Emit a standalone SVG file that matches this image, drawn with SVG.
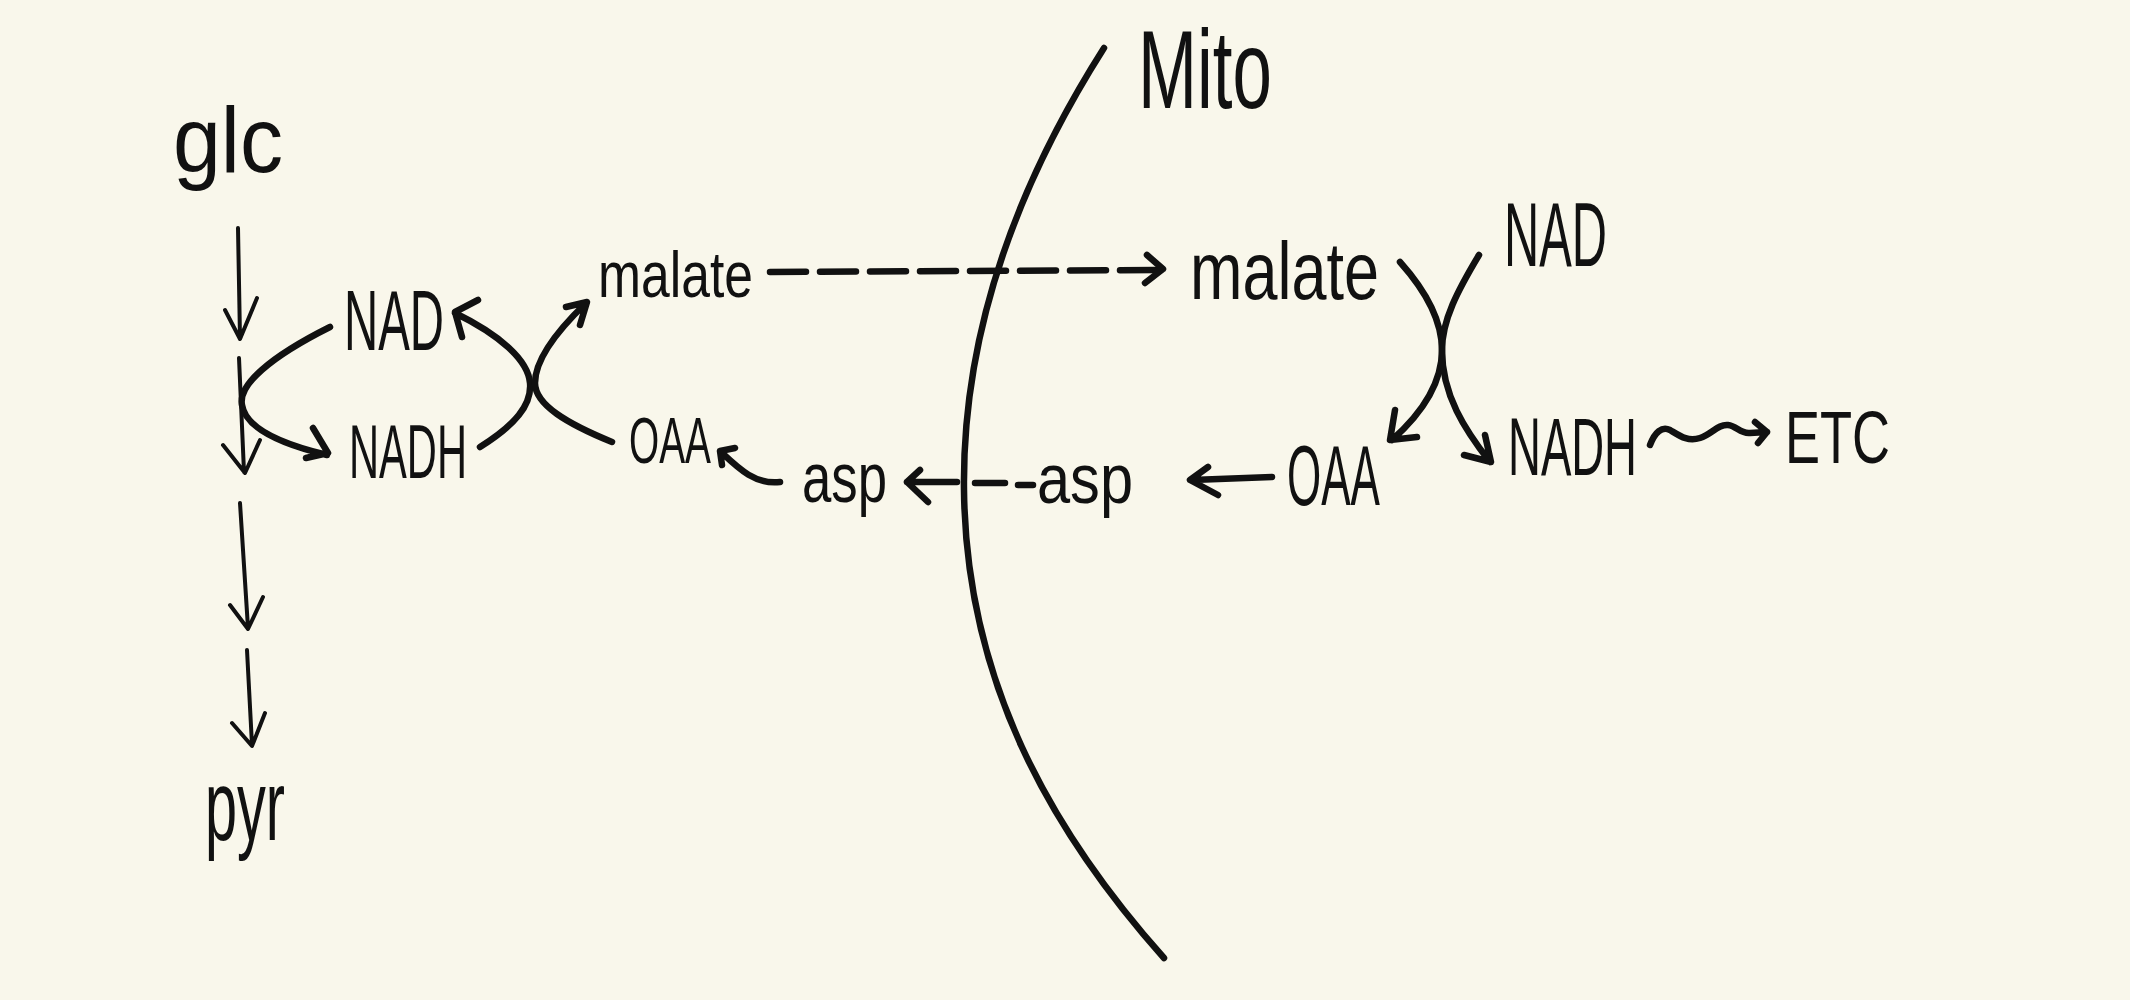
<svg xmlns="http://www.w3.org/2000/svg" width="2130" height="1000" viewBox="0 0 2130 1000">
<style>
.t{font-family:"Liberation Sans","DejaVu Sans",sans-serif;fill:#111}
.ln{fill:none;stroke:#111;stroke-linecap:round;stroke-linejoin:round}
.thin{stroke-width:4}
.thick{stroke-width:6.5}
</style>
<rect width="2130" height="1000" fill="#f9f7eb"/>
<g id="membrane"><path class="ln thick" d="M1104,48 C1020,180 962,330 964,490 C966,680 1050,830 1164,958"/></g>
<g id="mito"><text class="t" x="1138" y="108" font-size="112" textLength="134" lengthAdjust="spacingAndGlyphs">Mito</text></g>
<g id="glc"><text class="t" x="173" y="172" font-size="92" textLength="110" lengthAdjust="spacingAndGlyphs">glc</text></g>
<g id="pyr"><text class="t" x="205" y="840" font-size="100" textLength="80" lengthAdjust="spacingAndGlyphs">pyr</text></g>
<g id="nad-cyto"><text class="t" x="344" y="350" font-size="86" textLength="100" lengthAdjust="spacingAndGlyphs">NAD</text></g>
<g id="nadh-cyto"><text class="t" x="349" y="478" font-size="76" textLength="118" lengthAdjust="spacingAndGlyphs">NADH</text></g>
<g id="malate-cyto"><text class="t" x="598" y="297" font-size="64" textLength="155" lengthAdjust="spacingAndGlyphs">malate</text></g>
<g id="oaa-cyto"><text class="t" x="629" y="463" font-size="64" textLength="82" lengthAdjust="spacingAndGlyphs">OAA</text></g>
<g id="asp-cyto"><text class="t" x="802" y="502" font-size="70" textLength="85" lengthAdjust="spacingAndGlyphs">asp</text></g>
<g id="asp-mito"><text class="t" x="1037" y="503" font-size="70" textLength="96" lengthAdjust="spacingAndGlyphs">asp</text></g>
<g id="malate-mito"><text class="t" x="1190" y="299" font-size="82" textLength="189" lengthAdjust="spacingAndGlyphs">malate</text></g>
<g id="nad-mito"><text class="t" x="1504" y="266" font-size="90" textLength="103" lengthAdjust="spacingAndGlyphs">NAD</text></g>
<g id="oaa-mito"><text class="t" x="1287" y="505" font-size="86" textLength="93" lengthAdjust="spacingAndGlyphs">OAA</text></g>
<g id="nadh-mito"><text class="t" x="1508" y="475" font-size="81" textLength="129" lengthAdjust="spacingAndGlyphs">NADH</text></g>
<g id="etc"><text class="t" x="1785" y="463" font-size="74" textLength="105" lengthAdjust="spacingAndGlyphs">ETC</text></g>
<g id="connectors">
<path class="ln thin" d="M238,228 L240,338 M225,310 L240,339 L257,298"/>
<path class="ln thin" d="M239,358 L244,472 M223,445 L245,473 L260,440"/>
<path class="ln thin" d="M240,503 L248,628 M230,605 L248,629 L263,597"/>
<path class="ln thin" d="M247,650 L252,745 M232,723 L252,746 L265,713"/>
<path class="ln thick" d="M330,327 C270,357 238,385 242,405 C246,430 285,445 327,455 M313,428 L328,453 L306,458"/>
<path class="ln thick" d="M480,447 C515,425 532,405 530,383 C528,360 500,335 455,313 M478,300 L455,312 L462,337"/>
<path class="ln thick" d="M612,442 C568,424 535,405 535,383 C535,360 558,330 586,303 M566,307 L587,302 L580,325"/>
<path class="ln thick" d="M770,272 L1158,270" stroke-dasharray="36 14"/>
<path class="ln thick" d="M1147,255 L1163,269 L1145,283"/>
<path class="ln thick" d="M907,482 L957,482 M975,483 L1005,483 M1018,485 L1033,485 M920,470 L907,482 L928,502"/>
<path class="ln thick" d="M780,482 C755,485 738,468 721,452 M722,465 L720,451 L735,448"/>
<path class="ln thick" d="M1272,477 L1192,480 M1208,467 L1190,480 L1218,495"/>
<path class="ln thick" d="M1400,262 C1425,290 1442,320 1442,350 C1442,385 1420,415 1392,440 M1395,410 L1390,440 L1417,437"/>
<path class="ln thick" d="M1479,255 C1458,290 1442,320 1442,350 C1442,395 1465,430 1490,462 M1464,455 L1491,462 L1485,435"/>
<path class="ln thick" d="M1650,445 C1655,432 1662,426 1670,430 C1680,436 1688,442 1700,438 C1712,434 1718,424 1728,425 C1737,426 1740,434 1750,433 L1767,432 M1755,422 L1767,432 L1758,443"/>
</g>
</svg>
